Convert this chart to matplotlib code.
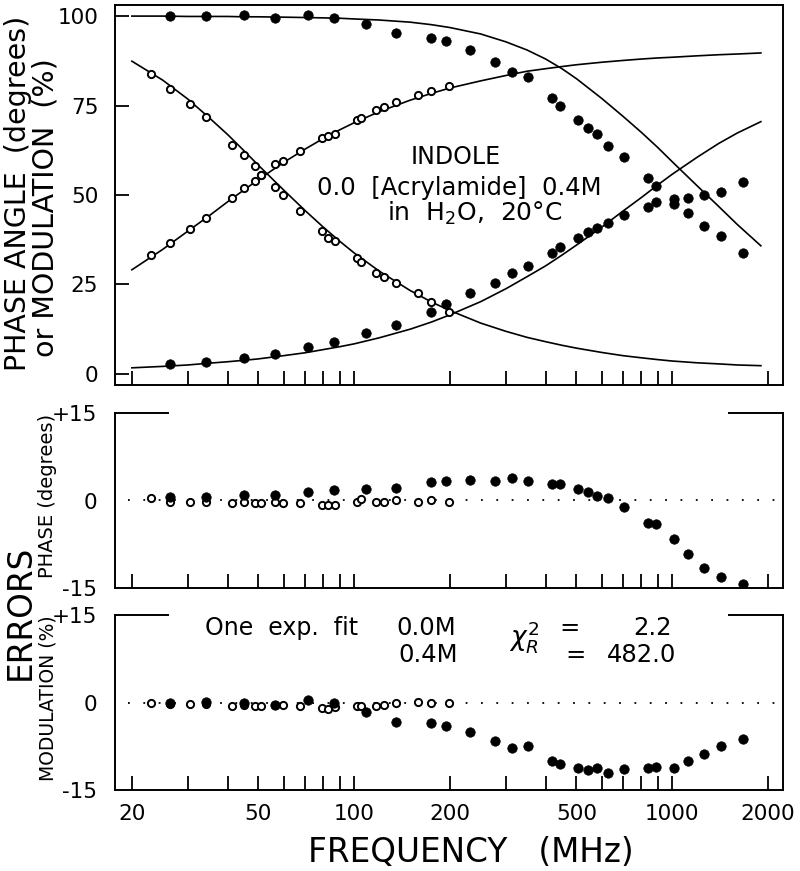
import matplotlib
matplotlib.use('Agg')
import matplotlib.pyplot as plt

plt.rcParams['font.family'] = ['DejaVu Sans']

# ---------------- data ----------------
# 0.0 M acrylamide (open circles)
freq_00 = [22.9, 26.3, 30.4, 34.2, 41.2, 45.0, 48.7, 51.0, 56.3, 59.8, 67.5,
           79.0, 82.8, 86.8, 102, 105, 117, 124, 135, 159, 174, 198]
phase_00 = [33.2, 36.7, 40.5, 43.5, 49.3, 51.9, 53.9, 55.6, 58.6, 59.6, 62.4,
            65.8, 66.5, 67.0, 70.9, 71.6, 73.7, 74.5, 76.1, 77.9, 79.1, 80.4]
mod_00 = [83.8, 79.5, 75.4, 71.9, 64.0, 61.2, 58.1, 55.6, 52.3, 50.0, 45.6,
          40.0, 38.1, 37.2, 32.3, 31.4, 28.3, 27.2, 25.3, 22.6, 20.1, 17.3]
phase_err_00 = [0.4, -0.2, -0.3, -0.3, -0.4, -0.3, -0.4, -0.4, -0.2, -0.4, -0.5,
                -0.7, -0.7, -0.7, -0.2, 0.2, -0.3, -0.3, 0.0, -0.2, 0.0, -0.2]
mod_err_00 = [-0.1, -0.2, -0.3, -0.2, -0.6, -0.5, -0.6, -0.6, -0.5, -0.5, -0.6,
              -0.9, -1.1, -0.8, -0.6, -0.6, -0.6, -0.5, -0.1, 0.1, -0.1, -0.1]

# 0.4 M acrylamide (filled circles)
freq_04 = [26.3, 34.2, 45.0, 56.3, 71.6, 86.3, 109, 135, 174, 195, 232, 277, 313,
           352, 419, 444, 506, 543, 580, 628, 705, 839, 889, 1012, 1120, 1259,
           1423, 1668]
phase_04 = [2.8, 3.3, 4.4, 5.6, 7.5, 9.0, 11.4, 13.7, 17.3, 19.6, 22.6, 25.4, 28.2,
            30.2, 33.8, 35.5, 38.0, 39.7, 40.8, 42.2, 44.4, 46.6, 48.0, 48.8, 49.2,
            50.0, 50.8, 53.6]
mod_04 = [100.0, 100.0, 100.2, 99.4, 100.4, 99.6, 97.8, 95.3, 94.0, 93.0, 90.5,
          87.3, 84.4, 83.0, 77.1, 74.9, 71.0, 68.7, 67.0, 63.7, 60.6, 54.7, 52.5,
          47.5, 45.0, 41.3, 38.5, 33.8]
phase_err_04 = [0.6, 0.6, 1.0, 1.0, 1.5, 1.8, 2.0, 2.1, 3.1, 3.4, 3.5, 3.4, 3.8,
                3.3, 2.9, 2.9, 1.9, 1.5, 0.7, 0.4, -1.1, -3.8, -4.1, -6.6, -9.2,
                -11.5, -13.2, -14.3]
mod_err_04 = [-0.1, 0.1, 0.0, -0.4, 0.4, 0.0, -1.6, -3.3, -3.5, -4.0, -5.1, -6.6,
              -7.8, -7.5, -10.0, -10.5, -11.2, -11.6, -11.2, -12.1, -11.4, -11.2,
              -11.1, -11.2, -10.0, -8.8, -7.5, -6.3]

# fitted one-exponential curves
fit_freq = [20, 25, 30, 35, 40, 45, 50, 60, 70, 80, 90, 100, 120, 150, 175, 200,
            250, 300, 350, 400, 450, 500, 600, 700, 800, 900, 1000, 1200, 1400,
            1600, 1900]
fit_phase_00 = [29.1, 34.8, 39.9, 44.2, 48.1, 51.4, 54.3, 59.1, 62.8, 65.8, 68.2,
                70.2, 73.3, 76.5, 78.4, 79.9, 81.9, 83.4, 84.6, 85.3, 85.9, 86.4,
                87.1, 87.6, 88.0, 88.3, 88.5, 88.9, 89.2, 89.4, 89.7]
fit_mod_00 = [87.4, 82.1, 76.8, 71.6, 66.9, 62.4, 58.3, 51.4, 45.7, 41.0, 37.1,
              33.8, 28.7, 23.3, 20.1, 17.7, 14.2, 11.9, 10.2, 9.0, 8.0, 7.2, 6.0,
              5.1, 4.5, 4.0, 3.6, 3.1, 2.8, 2.5, 2.3]
fit_phase_04 = [1.7, 2.1, 2.5, 3.0, 3.4, 3.8, 4.2, 5.1, 5.9, 6.8, 7.6, 8.4, 10.1,
                12.5, 14.5, 16.5, 20.2, 23.8, 27.2, 30.2, 33.2, 36.0, 41.0, 45.5,
                49.3, 52.8, 55.8, 60.6, 64.4, 67.3, 70.5]
fit_mod_04 = [100.0, 100.0, 99.9, 99.9, 99.9, 99.8, 99.8, 99.7, 99.6, 99.5, 99.4,
              99.2, 98.9, 98.3, 97.6, 96.8, 95.0, 92.8, 90.5, 88.0, 85.3, 82.5,
              77.0, 72.0, 67.5, 63.3, 59.3, 52.5, 46.8, 41.8, 35.8]

x_ticks = [20, 30, 40, 50, 60, 70, 80, 90, 100, 200, 300, 400, 500, 600, 700,
           800, 900, 1000, 2000]
x_label_vals = [20, 50, 100, 200, 500, 1000, 2000]
top_yticks = [0, 25, 50, 75, 100]
err_yticks = [-15, 0, 15]
err_ylabels = ['-15', '0', '+15']

# ---------------- figure ----------------
W, H = 800, 871
fig = plt.figure(figsize=(W / 100, H / 100), dpi=100)


def ax_rect(left, top, right, bottom):
    return [left / W, 1 - bottom / H, (right - left) / W, (bottom - top) / H]


ax_top = fig.add_axes(ax_rect(115, 5, 783, 385))
ax_ph = fig.add_axes(ax_rect(115, 413, 783, 588))
ax_md = fig.add_axes(ax_rect(115, 615, 783, 790))

XMIN, XMAX = 17.7, 2230
TICKFS = 15.5

open_kw = dict(linestyle='none', marker='o', ms=5.2, mfc='white', mec='black', mew=1.4, zorder=3)
fill_kw = dict(linestyle='none', marker='o', ms=6.8, mfc='black', mec='black', mew=0.5, zorder=4)

for ax in (ax_top, ax_ph, ax_md):
    ax.set_xscale('log')
    ax.set_xlim(XMIN, XMAX)
    ax.xaxis.set_major_locator(plt.FixedLocator(x_ticks))
    ax.xaxis.set_minor_locator(plt.NullLocator())
    ax.tick_params(axis='x', which='both', direction='in', length=10, width=1.3,
                   top=False, bottom=True, labelsize=TICKFS, pad=10)
    for s in ax.spines.values():
        s.set_linewidth(1.4)

# top panel
for curve in (fit_phase_00, fit_mod_00, fit_phase_04, fit_mod_04):
    ax_top.plot(fit_freq, curve, color='black', lw=1.2)
ax_top.plot(freq_00, phase_00, **open_kw)
ax_top.plot(freq_00, mod_00, **open_kw)
ax_top.plot(freq_04, phase_04, **fill_kw)
ax_top.plot(freq_04, mod_04, **fill_kw)
ax_top.set_ylim(-3.1, 103.1)
ax_top.set_yticks(top_yticks)
ax_top.set_yticklabels([str(v) for v in top_yticks])
ax_top.tick_params(axis='y', direction='in', length=10, width=1.3, labelsize=TICKFS, pad=12)
ax_top.set_xticklabels([])

ax_top.text(0.510, 0.600, 'INDOLE', transform=ax_top.transAxes, ha='center', va='center', fontsize=17)
ax_top.text(0.515, 0.518, '0.0  [Acrylamide]  0.4M', transform=ax_top.transAxes, ha='center', va='center', fontsize=17.5)
ax_top.text(0.539, 0.452, 'in  H$_2$O,  20°C', transform=ax_top.transAxes, ha='center', va='center', fontsize=18)

# error panels
for ax, e00, e04 in ((ax_ph, phase_err_00, phase_err_04), (ax_md, mod_err_00, mod_err_04)):
    ax.axhline(0, xmin=0.02, xmax=1, color='black', lw=1.3, linestyle=(0, (1, 7.5)), zorder=1)
    ax.plot(freq_00, e00, **open_kw)
    ax.plot(freq_04, e04, **fill_kw)
    ax.set_ylim(-15, 15)
    ax.set_yticks(err_yticks)
    ax.set_yticklabels(err_ylabels)
    ax.tick_params(axis='y', length=0, labelsize=TICKFS, pad=13)
    ax.spines['top'].set_visible(False)
    ax.plot([0, 0.0793], [1, 1], transform=ax.transAxes, color='black', lw=1.4, clip_on=False)
    ax.plot([0.919, 1], [1, 1], transform=ax.transAxes, color='black', lw=1.4, clip_on=False)

ax_ph.set_xticklabels([])
ax_md.set_xticklabels([str(v) if v in x_label_vals else '' for v in x_ticks])

# annotation in modulation panel
tA = ax_md.transAxes
ax_md.text(0.135, 0.926, 'One  exp.  fit', transform=tA, ha='left', va='center', fontsize=17)
ax_md.text(0.421, 0.926, '0.0M', transform=tA, ha='left', va='center', fontsize=17.5)
ax_md.text(0.424, 0.771, '0.4M', transform=tA, ha='left', va='center', fontsize=17.5)
ax_md.text(0.590, 0.875, r'$\chi^2_R$', transform=tA, ha='left', va='center', fontsize=19)
ax_md.text(0.681, 0.926, '=', transform=tA, ha='center', va='center', fontsize=17.5)
ax_md.text(0.804, 0.926, '2.2', transform=tA, ha='center', va='center', fontsize=17.5)
ax_md.text(0.690, 0.771, '=', transform=tA, ha='center', va='center', fontsize=17.5)
ax_md.text(0.789, 0.771, '482.0', transform=tA, ha='center', va='center', fontsize=17.5)

# axis labels
fig.text(18 / W, 1 - 193 / H, 'PHASE ANGLE  (degrees)', rotation=90, ha='center', va='center', fontsize=20.5)
fig.text(46 / W, 1 - 208 / H, 'or MODULATION  (%)', rotation=90, ha='center', va='center', fontsize=20.5)
fig.text(20 / W, 1 - 612 / H, 'ERRORS', rotation=90, ha='center', va='center', fontsize=23.5)
fig.text(48 / W, 1 - 496 / H, 'PHASE (degrees)', rotation=90, ha='center', va='center', fontsize=14)
fig.text(48 / W, 1 - 698 / H, 'MODULATION (%)', rotation=90, ha='center', va='center', fontsize=13.5)
fig.text(471 / W, 1 - 852 / H, 'FREQUENCY   (MHz)', ha='center', va='center', fontsize=23.5)

fig.savefig('out.png', dpi=100)
